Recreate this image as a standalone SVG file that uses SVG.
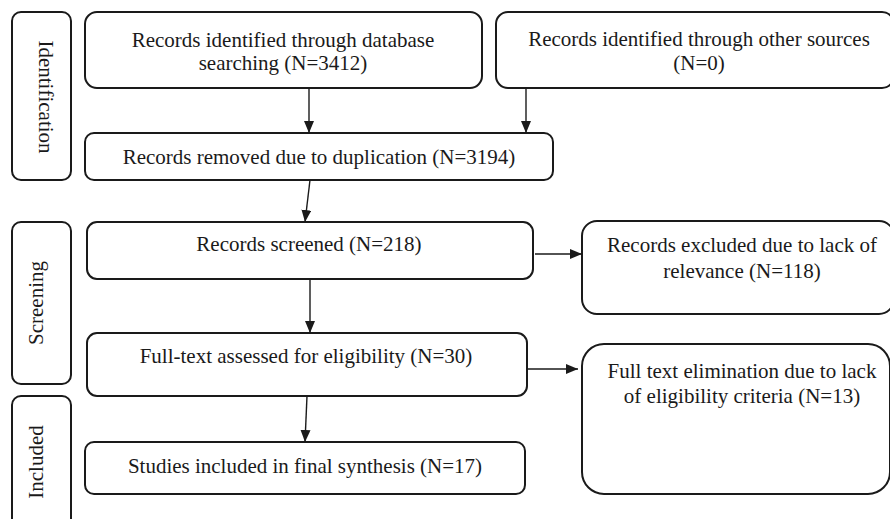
<svg xmlns="http://www.w3.org/2000/svg" width="890" height="519" viewBox="0 0 890 519">
<style>
.box{fill:#fff;stroke:#1a1a1a;stroke-width:2}
.t{font-family:"Liberation Serif","Times New Roman",serif;font-size:21px;fill:#1a1a1a;text-anchor:middle}
.c{stroke:#1a1a1a;stroke-width:1.4;fill:none;marker-end:url(#ah)}
</style>
<defs>
<marker id="ah" viewBox="0 0 12 10" refX="12" refY="5" markerWidth="12" markerHeight="10" markerUnits="userSpaceOnUse" orient="auto">
<path d="M0,0 L12,5 L0,10 Z" fill="#1a1a1a"/>
</marker>
</defs>
<rect width="890" height="519" fill="#fff"/>
<g id="stage-identification">
<rect class="box" x="12" y="12" width="59" height="168" rx="9"/>
<text class="t" transform="translate(39,97) rotate(90)">Identification</text>
</g>
<g id="stage-screening">
<rect class="box" x="12" y="222" width="59" height="162" rx="9"/>
<text class="t" transform="translate(43,303) rotate(-90)">Screening</text>
</g>
<g id="stage-included">
<rect class="box" x="12" y="396" width="59" height="140" rx="9"/>
<text class="t" transform="translate(43,462) rotate(-90)">Included</text>
</g>
<g id="db-search">
<rect class="box" x="85" y="12" width="397" height="76" rx="12"/>
<text class="t" x="283" y="47">Records identified through database</text>
<text class="t" x="283" y="70">searching (N=3412)</text>
</g>
<g id="other-sources">
<rect class="box" x="496" y="12" width="398" height="76" rx="12"/>
<text class="t" x="699" y="46">Records identified through other sources</text>
<text class="t" x="699" y="70">(N=0)</text>
</g>
<g id="duplicates">
<rect class="box" x="85" y="133" width="468" height="47" rx="9"/>
<text class="t" x="319" y="164">Records removed due to duplication (N=3194)</text>
</g>
<g id="screened">
<rect class="box" x="87" y="222" width="446" height="57" rx="10"/>
<text class="t" x="309" y="251">Records screened (N=218)</text>
</g>
<g id="excluded">
<rect class="box" x="582" y="221" width="312" height="93" rx="15"/>
<text class="t" x="742" y="252">Records excluded due to lack of</text>
<text class="t" x="742" y="278">relevance (N=118)</text>
</g>
<g id="fulltext">
<rect class="box" x="87" y="333" width="440" height="63" rx="10"/>
<text class="t" x="306" y="363">Full-text assessed for eligibility (N=30)</text>
</g>
<g id="elimination">
<rect class="box" x="582" y="344" width="308" height="150" rx="22"/>
<text class="t" x="742" y="378">Full text elimination due to lack</text>
<text class="t" x="742" y="403">of eligibility criteria (N=13)</text>
</g>
<g id="included">
<rect class="box" x="85" y="442" width="440" height="52" rx="9"/>
<text class="t" x="305" y="473">Studies included in final synthesis (N=17)</text>
</g>
<g id="connectors">
<line class="c" x1="309" y1="88" x2="309" y2="133"/>
<line class="c" x1="526" y1="88" x2="526" y2="133"/>
<line class="c" x1="310" y1="180" x2="305" y2="222"/>
<line class="c" x1="310" y1="279" x2="310" y2="333"/>
<line class="c" x1="307" y1="396" x2="305" y2="442"/>
<line class="c" x1="535" y1="254" x2="582" y2="254"/>
<line class="c" x1="527" y1="369" x2="578" y2="369"/>
</g>
</svg>
